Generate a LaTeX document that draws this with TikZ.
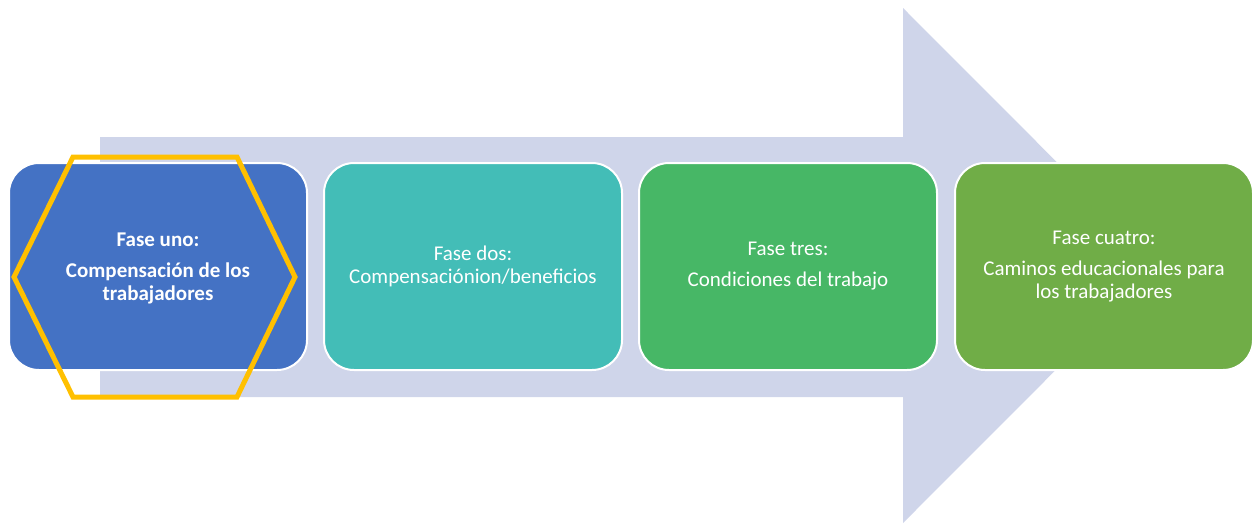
\documentclass[tikz,border=0pt]{standalone}
\usepackage{fontspec}
\setmainfont{Carlito}
\definecolor{arrowc}{HTML}{CFD5EA}
\definecolor{c1}{HTML}{4472C4}
\definecolor{c2}{HTML}{43BDB7}
\definecolor{c3}{HTML}{47B766}
\definecolor{c4}{HTML}{70AD47}
\definecolor{hexc}{HTML}{FFC000}
\begin{document}
\begin{tikzpicture}[x=1pt,y=-1pt,
  phase/.style={rectangle, rounded corners=30pt, draw=white, line width=2pt,
    minimum width=298pt, minimum height=207pt, text=white, align=center,
    font=\fontsize{21}{23}\selectfont, inner sep=0pt},
  hexline/.style={draw=hexc, line width=5pt, line join=miter}]
\useasboundingbox (0,0) rectangle (1252,523);
\clip (0,0) rectangle (1252,523);
% big arrow
\fill[arrowc] (100,137) -- (903,137) -- (903,8) -- (1160,265.5) -- (903,523) -- (903,397) -- (100,397) -- cycle;
% phases
\node[phase, fill=c1] (p1) at (158,266.5) {};
\node[phase, fill=c2] (p2) at (473,266.5) {Fase dos:\\Compensaciónion/beneficios};
\node[phase, fill=c3] (p3) at (788,266.5) {Fase tres:\\[8pt]Condiciones del trabajo};
\node[phase, fill=c4] (p4) at (1104,266.5) {Fase cuatro:\\[8pt]Caminos educacionales para\\los trabajadores};
% hexagon
\coordinate (h1) at (73,157);
\coordinate (h2) at (237,157);
\coordinate (h3) at (295,277);
\coordinate (h4) at (237,397);
\coordinate (h5) at (73,397);
\coordinate (h6) at (14,277);
\draw[hexline] (h1) -- (h2) -- (h3) -- (h4) -- (h5) -- (h6) -- cycle;
\node[text=white, align=center, font=\fontsize{21}{23}\selectfont\bfseries] (t1) at (158,268) {Fase uno:\\[8pt]Compensación de los\\trabajadores};
\end{tikzpicture}
\end{document}
